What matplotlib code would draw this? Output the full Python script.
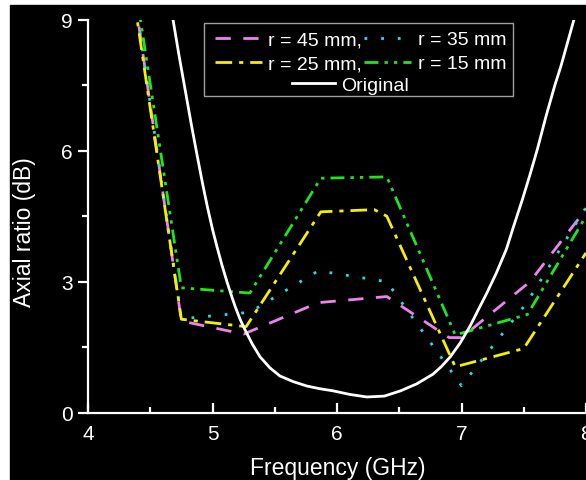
import matplotlib

matplotlib.use("Agg")
import matplotlib.pyplot as plt
from matplotlib.patches import Rectangle
from matplotlib.ticker import MultipleLocator

plt.rcParams["font.family"] = ["Liberation Sans", "DejaVu Sans"]

# r = 45 mm
freq_45 = [4.25, 4.75, 5.25, 5.85, 6.4, 6.9, 7.0, 7.55, 8.0]
ar_45 = [12.0, 2.1, 1.8, 2.52, 2.66, 1.72, 1.72, 3.0, 4.66]

# r = 35 mm
freq_35 = [4.25, 4.75, 5.3, 5.85, 6.4, 7.0, 7.52, 8.0]
ar_35 = [12.0, 2.15, 2.3, 3.25, 3.0, 0.62, 2.5, 4.7]

# r = 25 mm
freq_25 = [4.25, 4.75, 5.27, 5.87, 6.3, 6.4, 6.95, 7.5, 8.0]
ar_25 = [11.8, 2.14, 1.97, 4.6, 4.65, 4.5, 1.05, 1.47, 3.66]

# r = 15 mm
freq_15 = [4.25, 4.75, 5.3, 5.87, 6.4, 6.95, 7.53, 8.0]
ar_15 = [12.2, 2.86, 2.74, 5.37, 5.4, 1.78, 2.25, 4.5]

# original antenna
freq_orig = [4.6, 4.683, 4.73, 4.78, 4.83, 4.876, 4.92, 4.96, 5.0, 5.036,
             5.076, 5.116, 5.15, 5.181, 5.22, 5.261, 5.32, 5.382, 5.46,
             5.542, 5.65, 5.759, 5.86, 5.97, 6.1, 6.24, 6.38, 6.51, 6.64,
             6.77, 6.84, 6.91, 6.99, 7.07, 7.13, 7.2, 7.28, 7.36, 7.42,
             7.49, 7.55, 7.61, 7.68, 7.75, 7.8, 7.9, 7.95]
ar_orig = [10.3, 9.0, 8.2, 7.4, 6.6, 5.9, 5.25, 4.7, 4.2, 3.8,
           3.38, 3.0, 2.7, 2.44, 2.15, 1.9, 1.57, 1.28, 1.03,
           0.84, 0.71, 0.61, 0.55, 0.5, 0.42, 0.36, 0.38, 0.5, 0.66,
           0.88, 1.06, 1.28, 1.6, 1.99, 2.33, 2.72, 3.2, 3.74, 4.28,
           4.89, 5.45, 6.04, 6.8, 7.5, 7.95, 8.97, 9.5]

fig = plt.figure(figsize=(5.86, 4.81), dpi=100, facecolor="white")
fig.patches.append(Rectangle((10 / 586, 0), 1, 475 / 481, color="black",
                             transform=fig.transFigure, zorder=-10))
ax = fig.add_axes([88 / 586, 67.3 / 481, 498 / 586, 393 / 481])
ax.set_facecolor("black")

lw = 2.0
l45, = ax.plot(freq_45, ar_45, color="#ee82ee", lw=lw, ls=(0, (5.5, 4.5)),
               label="r = 45 mm,")
l35, = ax.plot(freq_35, ar_35, color="#1fe0ea", lw=lw, ls=(0, (1, 5)),
               label="r = 35 mm")
l25, = ax.plot(freq_25, ar_25, color="#f5f000", lw=lw,
               ls=(0, (6, 2.5, 1.5, 2.5)), label="r = 25 mm,")
l15, = ax.plot(freq_15, ar_15, color="#1ee61e", lw=lw,
               ls=(0, (5, 2.2, 1.2, 2.2, 1.2, 2.2)), label="r = 15 mm")
lo, = ax.plot(freq_orig, ar_orig, color="white", lw=lw, label="Original",
              solid_joinstyle="round")

ax.set_xlim(4, 8)
ax.set_ylim(0, 9)
ax.xaxis.set_major_locator(MultipleLocator(1))
ax.xaxis.set_minor_locator(MultipleLocator(0.5))
ax.yaxis.set_major_locator(MultipleLocator(3))
ax.yaxis.set_minor_locator(MultipleLocator(1.5))

for side in ["top", "right"]:
    ax.spines[side].set_visible(False)
for side in ["left", "bottom"]:
    ax.spines[side].set_color("white")
    ax.spines[side].set_linewidth(1.6)

ax.tick_params(axis="x", which="major", direction="in", length=7, width=1.6,
               color="white", labelcolor="white", labelsize=15, pad=8)
ax.tick_params(axis="x", which="minor", direction="in", length=4, width=1.6,
               color="white")
ax.tick_params(axis="y", which="major", direction="out", length=7, width=1.6,
               color="white", labelcolor="white", labelsize=15, pad=4)
ax.tick_params(axis="y", which="minor", direction="out", length=4, width=1.6,
               color="white")

ax.set_xlabel("Frequency (GHz)", color="white", fontsize=16.5)
ax.set_ylabel("Axial ratio (dB)", color="white", fontsize=16.5)
ax.xaxis.set_label_coords(0.501, -0.110)
ax.yaxis.set_label_coords(-0.104, 0.462)

# legend frame drawn by hand, the two legends sit inside it
ax.add_patch(Rectangle((0.233, 0.806), 0.62, 0.186, transform=ax.transAxes,
                       facecolor="black", edgecolor="#a0a0a0", lw=1.0,
                       zorder=4.5, clip_on=False))
leg1 = ax.legend(handles=[l45, l25, l35, l15], ncol=2, loc="upper left",
                 bbox_to_anchor=(0.255, 0.972), frameon=False, fontsize=14,
                 handlelength=2.4, handletextpad=0.35, columnspacing=0.1,
                 labelspacing=0.33, borderpad=0, borderaxespad=0)
for t in leg1.get_texts():
    t.set_color("white")
ax.add_artist(leg1)
leg2 = ax.legend(handles=[lo], loc="upper left", bbox_to_anchor=(0.41, 0.855),
                 frameon=False, fontsize=14, handlelength=2.2,
                 handletextpad=0.3, borderpad=0, borderaxespad=0)
for t in leg2.get_texts():
    t.set_color("white")

fig.savefig("out.png", dpi=100, facecolor="white")
